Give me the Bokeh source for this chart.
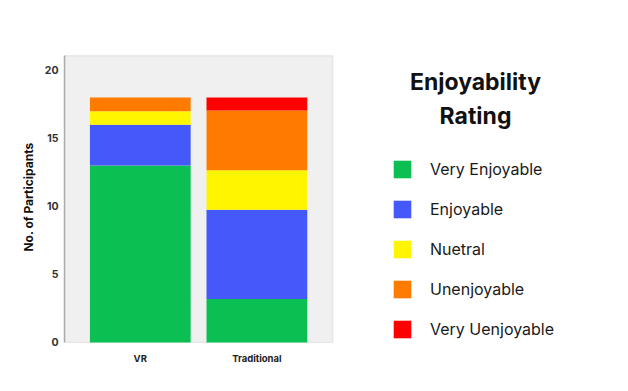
from bokeh.plotting import figure
from bokeh.models import Legend, LegendItem, Label, FixedTicker, Range1d, ColumnDataSource, BoxAnnotation
from bokeh.embed import file_html
from bokeh.resources import INLINE

groups = ["VR", "Traditional"]
ratings = ["Very Enjoyable", "Enjoyable", "Nuetral", "Unenjoyable", "Very Uenjoyable"]
very_enjoyable = [13, 3.2]
enjoyable = [3, 6.55]
neutral = [1, 2.9]
unenjoyable = [1, 4.4]
very_unenjoyable = [0, 0.95]
y_ticks = [0, 5, 10, 15, 20]
colors = ["#0CBF52", "#4559FA", "#FFF500", "#FF7B00", "#FF0000"]

FONT = "Inter"

x_pos = list(range(len(groups)))
source = ColumnDataSource(dict(
    x=x_pos,
    **{ratings[0]: very_enjoyable, ratings[1]: enjoyable, ratings[2]: neutral,
       ratings[3]: unenjoyable, ratings[4]: very_unenjoyable}))

# frame: canvas x 64..612, y 50..343 ; 116.6 px per category unit, 13.6 px per participant
p = figure(width=624, height=388, x_range=Range1d(-0.65, 4.05), y_range=Range1d(-0.08, 21.46),
           output_backend="svg", toolbar_location=None,
           min_border_left=64, min_border_right=12, min_border_top=50, min_border_bottom=45)
p.background_fill_color = "white"
p.border_fill_color = "white"
p.outline_line_color = None
p.xgrid.visible = False
p.ygrid.visible = False

p.add_layout(BoxAnnotation(left=-0.65, right=1.65, bottom=0, top=21.08,
                           fill_color="#F0F0F0", fill_alpha=1.0,
                           line_color="#C4C4C4", line_width=1.5, level="underlay"))

rends = p.vbar_stack(ratings, x="x", width=0.864, color=colors, source=source, line_color=None)

p.yaxis.ticker = FixedTicker(ticks=y_ticks)
p.xaxis.ticker = FixedTicker(ticks=x_pos)
p.xaxis.major_label_overrides = {i: g for i, g in enumerate(groups)}
for ax in (p.xaxis, p.yaxis):
    ax.major_tick_line_color = None
    ax.minor_tick_line_color = None
    ax.major_label_text_font = FONT
    ax.major_label_text_color = "#222222"
p.xaxis.axis_line_color = None
p.yaxis.axis_line_color = "#AAAAAA"
p.yaxis.axis_line_width = 1.5
p.yaxis.bounds = (0, 21.08)
p.yaxis.major_label_text_font_size = "10.5px"
p.yaxis.major_label_text_font_style = "bold"
p.yaxis.major_label_text_color = "#333333"
p.yaxis.major_label_standoff = 0
p.xaxis.major_label_text_font_size = "9.5px"
p.xaxis.major_label_text_font_style = "bold"
p.xaxis.major_label_standoff = 3
p.yaxis.axis_label = "No. of Participants"
p.yaxis.axis_label_text_font = FONT
p.yaxis.axis_label_text_font_size = "12px"
p.yaxis.axis_label_text_font_style = "bold"
p.yaxis.axis_label_text_color = "#111111"
p.yaxis.axis_label_standoff = 6

legend = Legend(items=[LegendItem(label=r, renderers=[rend]) for r, rend in zip(ratings, rends)],
                location=(327, 3), glyph_width=22, glyph_height=22, label_height=22,
                spacing=18, label_standoff=17, padding=0, margin=0,
                border_line_color=None, background_fill_alpha=0,
                label_text_font=FONT, label_text_font_size="16px", label_text_color="#1A1A1A")
p.add_layout(legend)

for txt, yy in (("Enjoyability", 262), ("Rating", 228)):
    p.add_layout(Label(x=411, y=yy, x_units="screen", y_units="screen", text=txt,
                       text_align="center", text_baseline="middle", text_font=FONT,
                       text_font_size="23px", text_font_style="bold", text_color="#111111"))

open("out.html", "w").write(file_html(p, INLINE))
